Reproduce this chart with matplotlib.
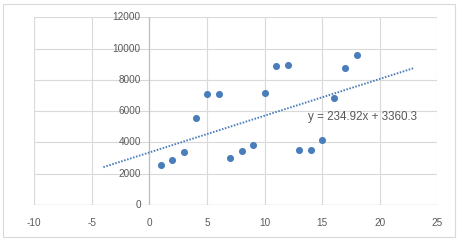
import numpy as np
import matplotlib.pyplot as plt
from matplotlib.patches import Rectangle

# dados
x_vals = [1, 2, 3, 4, 5, 6, 7, 8, 9, 10, 11, 12, 13, 14, 15, 16, 17, 18]
y_vals = [2550, 2900, 3400, 5550, 7100, 7100, 3000, 3450, 3850, 7150,
          8900, 8950, 3500, 3500, 4150, 6850, 8750, 9600]
inclinacao = 234.92
intercepto = 3360.3
x_tend = [-4, 23]
x_ticks = [-10, -5, 0, 5, 10, 15, 20, 25]
y_ticks = [0, 2000, 4000, 6000, 8000, 10000, 12000]

plt.rcParams['font.family'] = ['Liberation Sans', 'DejaVu Sans']
plt.rcParams['axes.unicode_minus'] = False
azul = '#4a7ebb'
cinza_txt = '#595959'

fig = plt.figure(figsize=(4.61, 2.42), dpi=100)
fig.patches.append(Rectangle((3 / 461, 1 - 237 / 242), 452 / 461, 233 / 242,
                             transform=fig.transFigure, fill=False,
                             edgecolor='#d9d9d9', linewidth=0.8))
ax = fig.add_axes([34.3 / 461, 1 - 205 / 242, 403 / 461, 187.7 / 242])

ax.set_xlim(-10, 25)
ax.set_ylim(0, 12000)
ax.set_xticks(x_ticks)
ax.set_yticks(y_ticks)
ax.grid(True, color='#d9d9d9', linewidth=0.8)
ax.set_axisbelow(True)
for s in ax.spines.values():
    s.set_visible(False)
ax.tick_params(length=0, labelleft=False, labelsize=7.2, colors=cinza_txt, pad=9)

# eixos cruzando em x=0 e y=0
ax.axvline(0, color='#bfbfbf', linewidth=0.9, zorder=1)
ax.axhline(0, color='#bfbfbf', linewidth=0.9, zorder=1)
for yt in y_ticks:
    ax.text(-0.75, yt, str(yt), ha='right', va='center', fontsize=7.2, color=cinza_txt)

xt = np.array(x_tend, dtype=float)
ax.plot(xt, inclinacao * xt + intercepto, color=azul, linewidth=1.4,
        linestyle=(0, (0.8, 0.8)), zorder=2)
ax.scatter(x_vals, y_vals, s=26, color=azul, zorder=3, linewidths=0)
ax.text(13.75, 5620, 'y = 234.92x + 3360.3', ha='left', va='center',
        fontsize=8.4, color=cinza_txt)

fig.savefig('out.png', dpi=100)
